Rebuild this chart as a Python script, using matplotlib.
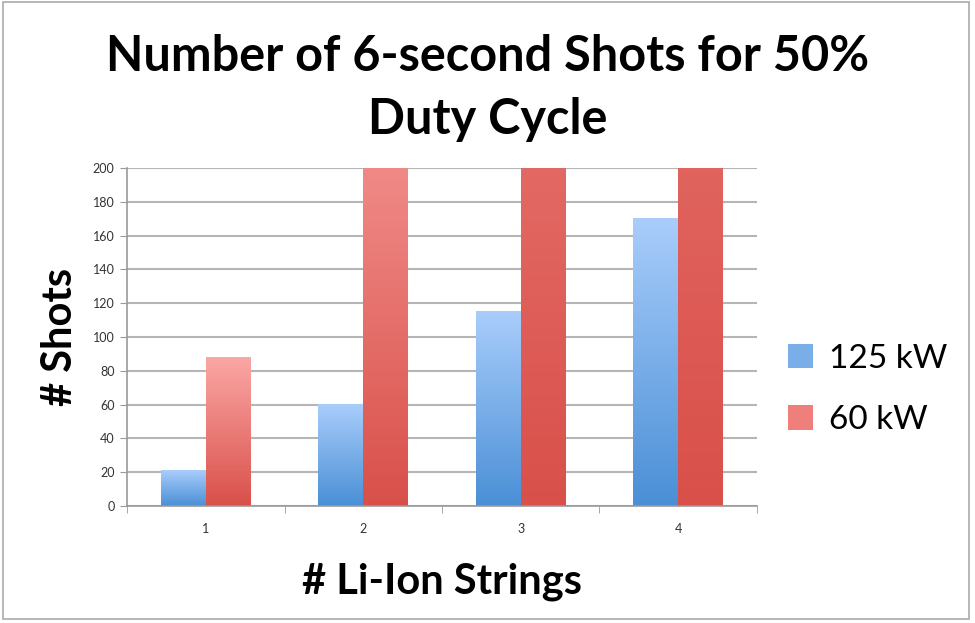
import numpy as np
import matplotlib.pyplot as plt
from matplotlib.colors import LinearSegmentedColormap
from matplotlib.patches import Patch, Rectangle

plt.rcParams['font.family'] = ['Lato', 'DejaVu Sans']

# data
strings = [1, 2, 3, 4]
shots_125kw = [21, 60, 115, 170]
shots_60kw = [88, 300, 700, 900]   # clipped at 200 on chart
series_names = ['125 kW', '60 kW']

blue_cm = LinearSegmentedColormap.from_list('b', ['#4a8fd6', '#a9cdfb'])
red_cm = LinearSegmentedColormap.from_list('r', ['#d9504a', '#fba7a5'])

fig = plt.figure(figsize=(9.75, 6.23), dpi=100)
ax = fig.add_axes([0.1303, 0.1878, 0.646, 0.5425])

w = 0.285
grad = np.linspace(0, 1, 256).reshape(-1, 1)
for i, x in enumerate(strings):
    for vals, cm, off in [(shots_125kw, blue_cm, -w), (shots_60kw, red_cm, 0)]:
        h = vals[i]
        ax.imshow(grad, cmap=cm, origin='lower', aspect='auto',
                  extent=(x + off, x + off + w, 0, h), zorder=2)

ax.set_xlim(0.5, 4.5)
ax.set_ylim(0, 200)
ax.set_yticks(range(0, 201, 20))
ax.set_xticks(strings)
ax.set_xticks([0.5, 1.5, 2.5, 3.5, 4.5], minor=True)
ax.tick_params(axis='x', which='major', length=0, pad=12, labelsize=9, colors='#333333')
ax.tick_params(axis='x', which='minor', length=5, color='#999999')
ax.tick_params(axis='y', length=5, color='#999999', labelsize=9, labelcolor='#333333', pad=4)
ax.grid(axis='y', color='#b5b5b5', linewidth=1.5, zorder=0)
ax.set_axisbelow(True)
for s in ['top', 'right']:
    ax.spines[s].set_visible(False)
for s in ['left', 'bottom']:
    ax.spines[s].set_color('#999999')
    ax.spines[s].set_linewidth(1.2)

fig.text(0.5, 0.859, 'Number of 6-second Shots for 50%\nDuty Cycle', ha='center', va='center',
         fontsize=35, fontweight='bold', linespacing=1.5)
ax.set_ylabel('# Shots', fontsize=30, fontweight='bold', labelpad=10)
ax.set_xlabel('# Li-Ion Strings', fontsize=30, fontweight='bold', labelpad=20)

handles = [Patch(facecolor='#7aaee8'), Patch(facecolor='#ee7f7a')]
fig.legend(handles, series_names, loc='center left', bbox_to_anchor=(0.777, 0.375),
           frameon=False, fontsize=24, handlelength=0.75, handleheight=0.75,
           handletextpad=0.5, labelspacing=0.95)

fig.patches.append(Rectangle((0.003, 0.006), 0.991, 0.99, transform=fig.transFigure,
                             fill=False, edgecolor='#aaaaaa', linewidth=1.2))

fig.savefig('out.png', dpi=100)
